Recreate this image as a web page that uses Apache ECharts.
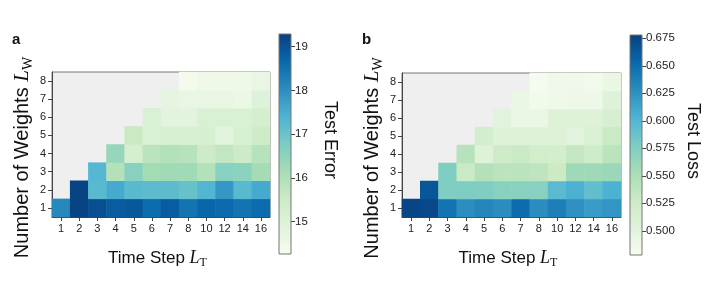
<!DOCTYPE html>
<html><head><meta charset="utf-8">
<script src="https://cdn.jsdelivr.net/npm/echarts@6/dist/echarts.min.js"></script>
<style>html,body{margin:0;padding:0;background:#fff}#c{width:714px;height:289px}</style>
</head><body><div id="c"></div>
<script>
const timeSteps = ['1','2','3','4','5','6','7','8','10','12','14','16'];
const numWeights = ['1','2','3','4','5','6','7','8'];
// rows: L_W = 1..8, columns: L_T as in timeSteps
const testError = [
  [18.1, 19.25, 19.05, 18.85, 18.9, 18.6, 18.85, 18.45, 18.7, 18.62, 18.45, 18.6],
  [null, 19.25, 17.25, 17.55, 17.25, 17.2, 17.2, 17.05, 17.35, 17.85, 17.25, 17.55],
  [null, null, 17.3, 15.95, 16.6, 16.2, 16.25, 16.25, 15.95, 16.6, 16.55, 16.2],
  [null, null, null, 16.4, 15.25, 15.85, 15.95, 15.88, 15.5, 15.7, 15.5, 15.88],
  [null, null, null, null, 15.55, 15.05, 15.15, 15.15, 15.2, 14.85, 15.15, 15.45],
  [null, null, null, null, null, 15.1, 14.8, 14.8, 15.1, 15.1, 15.1, 15.25],
  [null, null, null, null, null, null, 14.75, 14.65, 14.65, 14.65, 14.55, 14.95],
  [null, null, null, null, null, null, null, 14.35, 14.5, 14.5, 14.5, 14.65]
];
const testLoss = [
  [0.675, 0.673, 0.645, 0.627, 0.632, 0.628, 0.65, 0.628, 0.637, 0.626, 0.618, 0.622],
  [null, 0.665, 0.576, 0.577, 0.575, 0.57, 0.571, 0.571, 0.596, 0.605, 0.592, 0.604],
  [null, null, 0.575, 0.53, 0.545, 0.54, 0.54, 0.538, 0.528, 0.558, 0.558, 0.56],
  [null, null, null, 0.543, 0.505, 0.525, 0.53, 0.522, 0.52, 0.533, 0.525, 0.54],
  [null, null, null, null, 0.52, 0.505, 0.505, 0.505, 0.506, 0.502, 0.512, 0.53],
  [null, null, null, null, null, 0.502, 0.492, 0.492, 0.506, 0.506, 0.506, 0.515],
  [null, null, null, null, null, null, 0.492, 0.483, 0.487, 0.488, 0.488, 0.505],
  [null, null, null, null, null, null, null, 0.48, 0.486, 0.486, 0.484, 0.493]
];
const errorRange = [14.26, 19.29];
const lossRange = [0.478, 0.678];
const errorTicks = [15, 16, 17, 18, 19];
const lossTicks = [0.500, 0.525, 0.550, 0.575, 0.600, 0.625, 0.650, 0.675];

const GnBu = ['#f7fcf0','#e0f3db','#ccebc5','#a8ddb5','#7bccc4','#4eb3d3','#2b8cbe','#0868ac','#084081'];
const FONT = 'Liberation Sans';

function toCells(mat) {
  const out = [];
  mat.forEach((row, yi) => row.forEach((v, xi) => { if (v !== null) out.push([xi, yi, v]); }));
  return out;
}
function richName(main, sub, size, pad) {
  return {
    name: main + ' {i|L}{s|' + sub + '}',
    nameTextStyle: {
      fontFamily: FONT, fontSize: size, color: '#111', lineHeight: size + 5, padding: pad,
      rich: {
        i: { fontFamily: 'Liberation Serif', fontStyle: 'italic', fontSize: size + 1, color: '#111', lineHeight: size + 5 },
        s: { fontFamily: 'Liberation Serif', fontSize: Math.round(size * 0.7), color: '#111', lineHeight: 12, verticalAlign: 'bottom', padding: [Math.round(size * 0.55), 0, 0, 0] }
      }
    }
  };
}
function gradient() {
  return new echarts.graphic.LinearGradient(0, 1, 0, 0,
    GnBu.map((c, i) => ({ offset: i / (GnBu.length - 1), color: c })));
}

const heatGrids = [
  { left: 52, top: 72, width: 218, height: 145 },
  { left: 402, top: 73, width: 219, height: 144 }
];
const cbGrids = [
  { left: 279, top: 34, width: 12, height: 220 },
  { left: 630, top: 35, width: 12, height: 220 }
];

const grid = [], xAxis = [], yAxis = [], series = [], visualMap = [];
const datasets = [testError, testLoss];
const ranges = [errorRange, lossRange];
const ticks = [errorTicks, lossTicks];
const cbTitles = ['Test Error', 'Test Loss'];
const fmt = [v => String(Math.round(v)), v => v.toFixed(3)];

for (let p = 0; p < 2; p++) {
  const gi = grid.length;
  grid.push(Object.assign({ show: true, backgroundColor: '#efefef', borderColor: '#777', borderWidth: 1 }, heatGrids[p]));
  xAxis.push(Object.assign({
    type: 'category', gridIndex: gi, data: timeSteps,
    axisLine: { show: true, lineStyle: { color: '#444' } },
    axisTick: { show: true, alignWithLabel: true, length: 4, lineStyle: { color: '#444' } },
    axisLabel: { fontFamily: FONT, fontSize: 11, color: '#222', margin: 6, interval: 0 },
    nameLocation: 'middle', nameGap: 30, splitLine: { show: false }
  }, richName('Time Step', 'T', 17, [0, 7, 0, 0])));
  yAxis.push(Object.assign({
    type: 'category', gridIndex: gi, data: numWeights,
    axisLine: { show: true, lineStyle: { color: '#444' } },
    axisTick: { show: true, alignWithLabel: true, length: 4, lineStyle: { color: '#444' } },
    axisLabel: { fontFamily: FONT, fontSize: 11, color: '#222', margin: 6, interval: 0 },
    nameLocation: 'middle', nameGap: 17, nameRotate: 90, splitLine: { show: false }
  }, richName('Number of Weights', 'W', 20, [0, 26, 0, 0])));
  const si = series.length;
  series.push({
    type: 'heatmap', xAxisIndex: gi, yAxisIndex: gi,
    data: toCells(datasets[p]), progressive: 0, silent: true
  });
  visualMap.push({
    type: 'continuous', show: false, seriesIndex: si, dimension: 2,
    min: ranges[p][0], max: ranges[p][1], inRange: { color: GnBu }
  });
  // colorbar
  const ci = grid.length;
  grid.push(Object.assign({ show: false }, cbGrids[p]));
  xAxis.push({ type: 'category', gridIndex: ci, data: ['c'], show: false });
  yAxis.push({
    type: 'value', gridIndex: ci, position: 'right',
    min: ranges[p][0], max: ranges[p][1],
    axisLine: { show: false },
    axisTick: { show: true, length: 4, customValues: ticks[p], lineStyle: { color: '#444' } },
    axisLabel: { show: true, customValues: ticks[p], formatter: fmt[p], fontFamily: FONT, fontSize: 11.5, color: '#222', margin: 4 },
    splitLine: { show: false },
    name: cbTitles[p], nameLocation: 'middle', nameRotate: -90, nameGap: p === 0 ? 30 : 42,
    nameTextStyle: { fontFamily: FONT, fontSize: 18, color: '#111', padding: [0, 8, 0, 0] }
  });
  const lo = ranges[p][0], hi = ranges[p][1];
  series.push({
    type: 'custom', xAxisIndex: ci, yAxisIndex: ci, silent: true,
    data: [[0, lo, hi]],
    renderItem: function (params, api) {
      const a = api.coord([0, api.value(1)]);
      const b = api.coord([0, api.value(2)]);
      const w = api.size([1, 0])[0];
      return {
        type: 'rect',
        shape: { x: a[0] - w / 2, y: b[1], width: w, height: a[1] - b[1] },
        style: { fill: gradient(), stroke: '#777', lineWidth: 1 }
      };
    }
  });
}

const chart = echarts.init(document.getElementById('c'), null, { renderer: 'canvas' });
chart.setOption({
  animation: false,
  backgroundColor: '#fff',
  title: [
    { text: 'a', left: 7, top: 27, textStyle: { fontFamily: FONT, fontWeight: 'bold', fontSize: 15, color: '#111' } },
    { text: 'b', left: 357, top: 27, textStyle: { fontFamily: FONT, fontWeight: 'bold', fontSize: 15, color: '#111' } }
  ],
  grid, xAxis, yAxis, visualMap, series
});
</script></body></html>
